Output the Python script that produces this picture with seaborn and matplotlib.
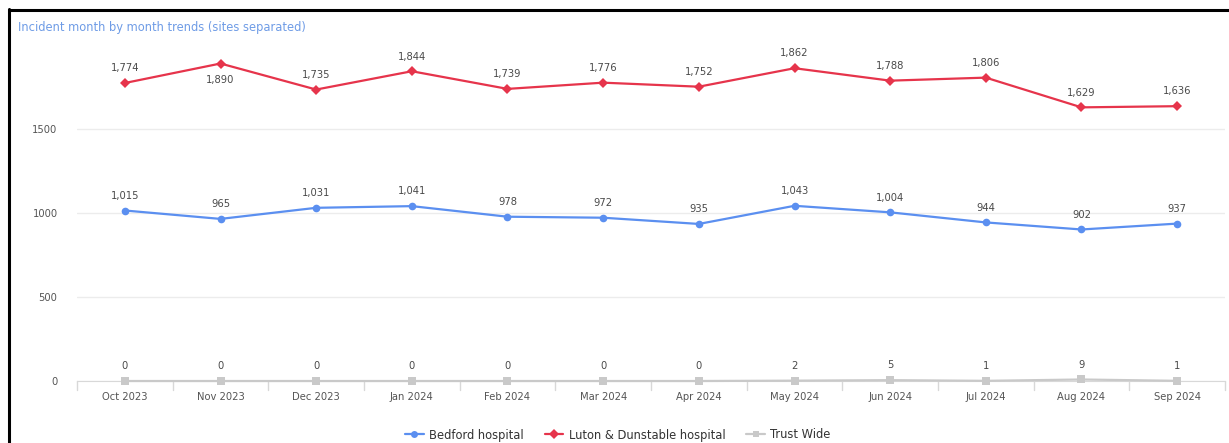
import matplotlib
matplotlib.use("Agg")
import matplotlib.pyplot as plt
import seaborn as sns
import pandas as pd
from matplotlib.lines import Line2D

months = ["Oct 2023", "Nov 2023", "Dec 2023", "Jan 2024", "Feb 2024", "Mar 2024",
          "Apr 2024", "May 2024", "Jun 2024", "Jul 2024", "Aug 2024", "Sep 2024"]
bedford = [1015, 965, 1031, 1041, 978, 972, 935, 1043, 1004, 944, 902, 937]
luton = [1774, 1890, 1735, 1844, 1739, 1776, 1752, 1862, 1788, 1806, 1629, 1636]
trust_wide = [0, 0, 0, 0, 0, 0, 0, 2, 5, 1, 9, 1]

series_names = ["Bedford hospital", "Luton & Dunstable hospital", "Trust Wide"]
colors = {"Bedford hospital": "#5b8ff0", "Luton & Dunstable hospital": "#e6344b",
          "Trust Wide": "#c9c9c9"}
markers = {"Bedford hospital": "o", "Luton & Dunstable hospital": "D", "Trust Wide": "s"}

df = pd.DataFrame({
    "month": months * 3,
    "x": list(range(len(months))) * 3,
    "value": bedford + luton + trust_wide,
    "series": [series_names[0]] * 12 + [series_names[1]] * 12 + [series_names[2]] * 12,
})

sns.set_style("white")
plt.rcParams["font.family"] = ["DejaVu Sans"]

W, H = 1229, 443
fig = plt.figure(figsize=(W / 100, H / 100), dpi=100)
ax = fig.add_axes([77 / W, 1 - 381 / H, (1225 - 77) / W, (381 - 40) / H])

sns.lineplot(data=df, x="x", y="value", hue="series", palette=colors,
             hue_order=series_names, style="series", markers=markers, dashes=False,
             markersize=5.5, markeredgewidth=0,
             linewidth=1.6, ax=ax, legend=False, clip_on=False, zorder=3)

ax.set_xlim(-0.5, 11.5)
ax.set_ylim(0, 2030)
ax.set_yticks([0, 500, 1000, 1500])
ax.set_yticklabels(["0", "500", "1000", "1500"])
ax.set_xticks(range(12))
ax.set_xticklabels(months)
ax.set_xlabel("")
ax.set_ylabel("")
ax.tick_params(axis="x", length=0, pad=8, labelsize=7.2, labelcolor="#555555")
ax.tick_params(axis="y", length=0, pad=14, labelsize=7.2, labelcolor="#555555")

# category boundary ticks
for b in [i - 0.5 for i in range(13)]:
    ax.plot([b, b], [0, -55], color="#d8d8d8", lw=1, clip_on=False, zorder=1)

ax.grid(axis="y", color="#ececec", linewidth=1)
ax.grid(axis="x", visible=False)
for s in ["top", "right", "left"]:
    ax.spines[s].set_visible(False)
ax.spines["bottom"].set_color("#d8d8d8")

label_kw = dict(ha="center", fontsize=7.2, color="#4a4a4a", zorder=4)
for i, v in enumerate(bedford):
    ax.annotate(f"{v:,}", (i, v), xytext=(0, 7), textcoords="offset points", va="bottom", **label_kw)
for i, v in enumerate(luton):
    if i == 1:
        ax.annotate(f"{v:,}", (i, v), xytext=(0, -8), textcoords="offset points", va="top", **label_kw)
    else:
        ax.annotate(f"{v:,}", (i, v), xytext=(0, 7), textcoords="offset points", va="bottom", **label_kw)
for i, v in enumerate(trust_wide):
    ax.annotate(f"{v:,}", (i, v), xytext=(0, 7), textcoords="offset points", va="bottom", **label_kw)

fig.text(18 / W, 1 - 27 / H, "Incident month by month trends (sites separated)",
         fontsize=8.3, color="#6f9ce6", va="center", ha="left")

handles = [Line2D([0], [0], color=colors[n], marker=markers[n], markersize=5, lw=1.6,
                  markeredgewidth=0) for n in series_names]
fig.legend(handles, series_names, loc="center", bbox_to_anchor=(618 / W, 1 - 435 / H),
           ncol=3, frameon=False, fontsize=8.3, labelcolor="#333333",
           handlelength=1.6, columnspacing=1.8, handletextpad=0.5)

# screenshot border (left and top)
fig.add_artist(Line2D([8.5 / W, 8.5 / W], [0, 1 - 9 / H], transform=fig.transFigure,
                      color="black", lw=2.2))
fig.add_artist(Line2D([8.5 / W, 1], [1 - 9.5 / H, 1 - 9.5 / H], transform=fig.transFigure,
                      color="black", lw=2.2))

fig.savefig("out.png", dpi=100)
